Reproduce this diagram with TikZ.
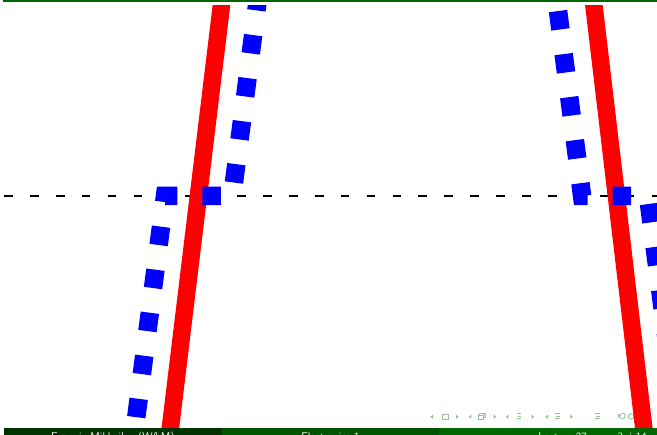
\documentclass[tikz,border=0pt]{standalone}
\usepackage{fontspec}
\definecolor{dgA}{RGB}{0,51,0}
\definecolor{dgB}{RGB}{0,85,0}
\definecolor{dgC}{RGB}{0,102,0}
\definecolor{navc}{RGB}{150,195,150}
\definecolor{pblue}{RGB}{0,0,255}
\definecolor{pred}{RGB}{255,0,0}
\tikzset{
  guide/.style={black, line width=2.4pt, dash pattern=on 8.7pt off 17.2pt},
  redline/.style={pred, line width=17.5pt},
  bluedot/.style={pblue, line width=18.5pt, dash pattern=on 18.5pt off 24.9pt},
  foot/.style={white, inner sep=0pt, font=\fontsize{11.2}{13}\selectfont\sffamily},
  navtri/.style={fill=navc, draw=none},
  navbox/.style={draw=navc, line width=0.8pt},
}
\begin{document}
\begin{tikzpicture}[x=1pt,y=-1pt]
\useasboundingbox (0,0) rectangle (657,435);
% top rule
\fill[dgC] (3,0) rectangle (657,2.2);
\begin{scope}
\clip (4,5.5) rectangle (657,428);
% dashed horizontal guide
\draw[guide] (4,196) -- (662,196);
% navigation symbols
\foreach \x in {431.7,470,507,546.7}{
  \fill[navtri] (\x+1.3,414.6) -- (\x+1.3,418.8) -- (\x-1.3,416.7) -- cycle;}
\foreach \x in {457.3,495,533,571.7}{
  \fill[navtri] (\x-1.3,414.6) -- (\x-1.3,418.8) -- (\x+1.3,416.7) -- cycle;}
\draw[navbox] (442,414.3) rectangle (448,419.1);
\draw[navbox] (478,415.3) rectangle (483.5,419.6);
\draw[navbox] (480,413.6) -- (485.5,413.6) -- (485.5,417.9) -- (483.5,417.9);
\draw[navbox] (480,413.6) -- (478,415.3);
\draw[navbox] (485.5,413.6) -- (483.5,415.3);
\foreach \x/\w in {516.7/4, 555/5, 595/5}{
  \draw[navc, line width=0.7pt] (\x,413.8) -- (\x+\w,413.8);
  \draw[navc, line width=0.7pt] (\x+1,416.3) -- (\x+\w,416.3);
  \draw[navc, line width=0.7pt] (\x,418.8) -- (\x+\w,418.8);}
\draw[navc, line width=0.9pt] (619.5,415) arc[start angle=200, end angle=-120, radius=3];
\fill[navc] (617.8,413.6) -- (621.4,415.4) -- (618.2,417.2) -- cycle;
\draw[navc, line width=0.9pt] (631,416.5) circle[radius=2.8];
% red lines
\draw[redline] (223.3,-10) -- (168.9,440);
\draw[redline] (592.1,-10) -- (645.2,440);
% blue dotted lines
\draw[bluedot] (258.75,-7.96) -- (232.2,196) -- (165,196) -- (133.3,440);
\draw[bluedot] (552.45,-31.96) -- (582.1,196) -- (648,196) -- (679.7,440);
\end{scope}
% footline
\fill[dgA] (4,427.7) rectangle (221.7,435);
\fill[dgB] (221.7,427.7) rectangle (439.3,435);
\fill[dgC] (439.3,427.7) rectangle (657,435);
\node[foot, anchor=base] (author) at (112.85,440.7) {Eugeniy Mikhailov (W\&M)};
\node[foot, anchor=base] (title) at (330.5,440.7) {Electronics 1};
\node[foot, anchor=base east] (date) at (587,440.7) {Lecture 27};
\node[foot, anchor=base east] (page) at (647,440.7) {3 / 14};
\end{tikzpicture}
\end{document}
